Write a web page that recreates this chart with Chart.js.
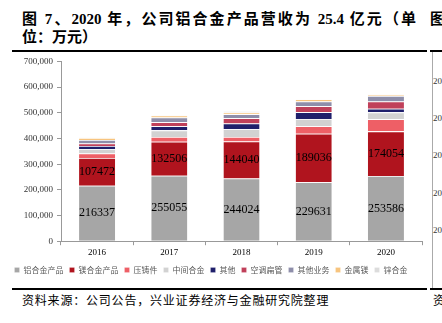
<!DOCTYPE html>
<html lang="zh">
<head>
<meta charset="UTF-8">
<title>铝合金产品营收</title>
<script src="https://cdn.jsdelivr.net/npm/chart.js"></script>
<style>
  body { margin: 0; width: 442px; height: 323px; overflow: hidden; background: #fff; position: relative;
         font-family: "Liberation Serif", "Noto Sans CJK SC", serif; }
  .title { position: absolute; left: 22px; font-weight: bold; font-size: 15px; color: #000; white-space: nowrap; }
  .line { position: absolute; background: #000; }
  #wrap { position: absolute; left: 0; top: 52px; width: 432px; height: 236px; }
  .src { position: absolute; left: 22px; top: 291px; font-size: 12px; letter-spacing: 0.8px; color: #000; }
  .side { position: absolute; left: 433px; font-size: 9px; color: #333; }
</style>
</head>
<body>
  <div class="title" style="top:7px; width:394px; text-align:justify; text-align-last:justify;">图 7、2020 年，公司铝合金产品营收为 25.4 亿元（单</div>
  <div class="title" style="top:7px; left:430px;">图</div>
  <div class="title" style="top:25px;">位：万元）</div>
  <div class="line" style="left:12px; top:50px; width:415px; height:2px;"></div>
  <div class="line" style="left:430px; top:50px; width:12px; height:2px;"></div>
  <div class="line" style="left:432px; top:52px; width:1px; height:236px; background:#aaa;"></div>
  <div class="line" style="left:12px; top:288px; width:415px; height:2px;"></div>
  <div class="line" style="left:430px; top:288px; width:12px; height:2px;"></div>
  <div class="side" style="top:76px;">20</div>
  <div class="side" style="top:113px;">20</div>
  <div class="side" style="top:150px;">20</div>
  <div class="side" style="top:188px;">20</div>
  <div class="side" style="top:225px;">20</div>
  <div id="wrap"><canvas id="c"></canvas></div>
  <div class="src">资料来源：公司公告，兴业证券经济与金融研究院整理</div>
  <div class="src" style="left:433px;">资</div>

<script>
// years
const years = ['2016', '2017', '2018', '2019', '2020'];

const lvhejin   = [216337, 255055, 244024, 229631, 253586]; // 铝合金产品
const meihejin  = [107472, 132506, 144040, 189036, 174054]; // 镁合金产品
const yazhujian = [18000, 18000, 18000, 29000, 47000];      // 压铸件
const zhongjian = [17000, 26000, 30000, 28000, 27000];      // 中间合金
const qita      = [12000, 16000, 22000, 27000, 14000];      // 其他
const biangua   = [10000, 16000, 21000, 23000, 28000];      // 空调扁管
const qitayewu  = [13000, 18000, 15000, 18000, 22000];      // 其他业务
const jinshumei = [8000, 8000, 7000, 9000, 4000];           // 金属镁
const xinhejin  = [1000, 1000, 5000, 2000, 1000];           // 锌合金

const names = ['铝合金产品', '镁合金产品', '压铸件', '中间合金', '其他', '空调扁管', '其他业务', '金属镁', '锌合金'];
const series = [lvhejin, meihejin, yazhujian, zhongjian, qita, biangua, qitayewu, jinshumei, xinhejin];
const colors = ['#a6a6a6', '#b0141e', '#ee5f66', '#d2d2d2', '#1f1f6b', '#c0405a', '#8e8eaa', '#f7c47e', '#dcdcdc'];

const datasets = series.map((d, i) => ({
  label: names[i],
  data: d,
  backgroundColor: colors[i],
  borderColor: '#ffffff',
  borderWidth: { top: 0.8, left: 0, right: 0, bottom: 0 },
  borderSkipped: false,
  barPercentage: 0.5,
  categoryPercentage: 1.0
}));

// numbers inside the two biggest segments
const insideLabels = {
  id: 'insideLabels',
  afterDatasetsDraw(chart) {
    const ctx = chart.ctx;
    ctx.save();
    ctx.font = '12px "Liberation Serif"';
    ctx.fillStyle = '#000';
    ctx.textAlign = 'center';
    ctx.textBaseline = 'middle';
    [0, 1].forEach(di => {
      chart.getDatasetMeta(di).data.forEach((bar, i) => {
        const y = (bar.y + bar.base) / 2;
        ctx.fillText(String(series[di][i]), bar.x, y);
      });
    });
    ctx.restore();
  }
};

new Chart(document.getElementById('c'), {
  type: 'bar',
  data: { labels: years, datasets: datasets },
  options: {
    responsive: true,
    maintainAspectRatio: false,
    animation: false,
    layout: { padding: { top: 8, right: 10, left: 0, bottom: 4 } },
    scales: {
      x: {
        stacked: true,
        grid: { display: true, drawOnChartArea: false, offset: true, color: '#999', tickLength: 4 },
        border: { color: '#999' },
        ticks: { color: '#000', font: { family: 'Liberation Serif', size: 9 }, padding: 2 }
      },
      y: {
        stacked: true,
        min: 0, max: 700000,
        afterFit(scale) { scale.width = 61; },
        grid: { display: true, drawOnChartArea: false, color: '#999', tickLength: 4 },
        border: { color: '#999' },
        ticks: {
          stepSize: 100000,
          color: '#333',
          font: { family: 'Liberation Serif', size: 9 },
          padding: 4,
          callback: v => v.toLocaleString('en-US')
        }
      }
    },
    plugins: {
      legend: {
        position: 'bottom',
        labels: {
          boxWidth: 5, boxHeight: 5,
          padding: 6,
          color: '#595959',
          font: { family: 'Noto Sans CJK SC', size: 8 }
        }
      },
      tooltip: { enabled: false }
    }
  },
  plugins: [insideLabels]
});
</script>
</body>
</html>
